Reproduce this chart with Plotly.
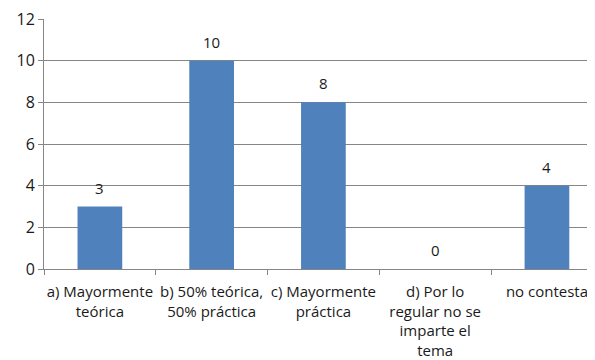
import plotly.graph_objects as go

categories = ["a) Mayormente<br>teórica", "b) 50% teórica,<br>50% práctica",
              "c) Mayormente<br>práctica", "d) Por lo<br>regular no se<br>imparte el<br>tema",
              "no contesta"]
values = [3, 10, 8, 0, 4]
y_ticks = [0, 2, 4, 6, 8, 10, 12]

FONT = "Open Sans"
TXT = "#1a1a1a"

fig = go.Figure()
fig.add_trace(go.Bar(x=categories, y=values, marker_color="#4F81BD",
                     marker_line_width=0, width=0.4))

for c, v in zip(categories, values):
    fig.add_annotation(x=c, y=v, text=str(v), showarrow=False, yanchor="bottom",
                       yshift=7, font=dict(family=FONT, size=15, color=TXT))

# page body has an 8px default margin: figure is offset by 8px
fig.update_layout(
    width=587, height=352,
    margin=dict(l=36, r=0, t=11, b=91),
    paper_bgcolor="white", plot_bgcolor="white",
    showlegend=False,
    font=dict(family=FONT, size=15, color=TXT),
    xaxis=dict(type="category", range=[-0.5, 4.43], tickson="boundaries",
               ticks="outside", ticklen=5, tickcolor="#868686", automargin=False,
               tickangle=0, ticklabelstandoff=9, ticklabeloverflow="allow",
               showline=True, linecolor="#868686", linewidth=1,
               showgrid=False, tickfont=dict(family=FONT, size=15, color=TXT)),
    yaxis=dict(range=[0, 12], tickvals=y_ticks, ticks="outside", ticklen=5,
               tickcolor="#868686", showline=True, linecolor="#868686", automargin=False,
               ticklabeloverflow="allow",
               gridcolor="#868686", gridwidth=1, zeroline=False,
               tickfont=dict(family=FONT, size=16, color=TXT)),
)
fig.write_html("out.html")
